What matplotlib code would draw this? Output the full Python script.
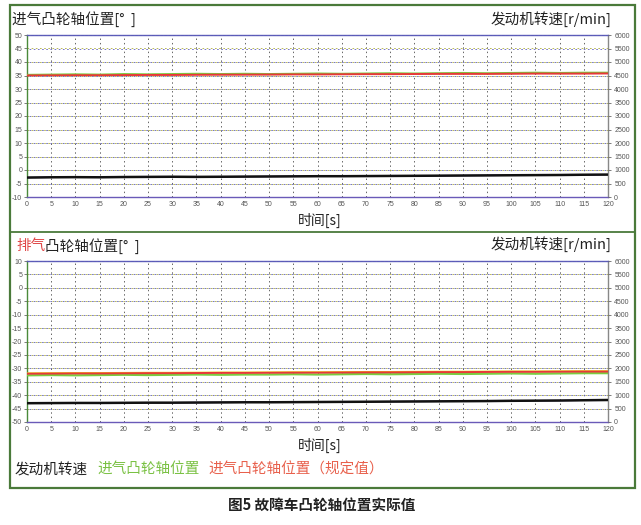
import matplotlib
matplotlib.use('Agg')
import matplotlib.pyplot as plt
from matplotlib.patches import Rectangle
from matplotlib.lines import Line2D
import numpy as np

plt.rcParams['font.family'] = ['Noto Sans CJK SC', 'DejaVu Sans']

# time axis [s]
time_s = [0, 5, 10, 15, 20, 25, 30, 35, 40, 45, 50, 55, 60,
          65, 70, 75, 80, 85, 90, 95, 100, 105, 110, 115, 120]

# top panel: intake camshaft
top_speed = [720, 730, 735, 730, 740, 745, 750, 745, 750, 755, 760, 765, 770,
             770, 775, 780, 785, 790, 795, 800, 805, 810, 815, 825, 830]
top_cam_actual = [35.2, 35.3, 35.4, 35.3, 35.5, 35.4, 35.5, 35.6, 35.5, 35.6, 35.5, 35.6, 35.7,
                  35.6, 35.7, 35.8, 35.7, 35.8, 35.9, 35.8, 35.9, 36.0, 35.9, 36.0, 36.0]
top_cam_target = [35.0, 35.05, 35.1, 35.1, 35.15, 35.2, 35.2, 35.25, 35.3, 35.3, 35.35, 35.4, 35.4,
                  35.45, 35.5, 35.5, 35.55, 35.6, 35.6, 35.6, 35.65, 35.7, 35.7, 35.7, 35.75]

# bottom panel: exhaust camshaft
bot_speed = [700, 705, 710, 710, 715, 720, 720, 725, 730, 735, 735, 740, 745,
             750, 755, 760, 765, 770, 775, 780, 790, 795, 800, 810, 820]
bot_cam_actual = [-32.6, -32.5, -32.6, -32.5, -32.4, -32.5, -32.4, -32.3, -32.4, -32.3, -32.3, -32.2, -32.3,
                  -32.2, -32.1, -32.2, -32.1, -32.0, -32.1, -32.0, -31.9, -32.0, -31.9, -31.8, -31.8]
bot_cam_target = [-32.0, -31.95, -31.9, -31.9, -31.85, -31.8, -31.8, -31.75, -31.7, -31.7, -31.65, -31.6, -31.6,
                  -31.55, -31.5, -31.5, -31.45, -31.4, -31.4, -31.35, -31.3, -31.3, -31.25, -31.2, -31.2]
bot_cam_other = [-31.8, -31.75, -31.7, -31.7, -31.65, -31.6, -31.6, -31.55, -31.5, -31.5, -31.45, -31.4, -31.4,
                 -31.35, -31.3, -31.3, -31.25, -31.2, -31.2, -31.15, -31.1, -31.1, -31.05, -31.0, -31.0]

x_ticks = list(range(0, 125, 5))
speed_ticks = list(range(0, 6500, 500))

W, H = 641, 525
fig = plt.figure(figsize=(W / 100, H / 100), dpi=100)

tick_font = dict(family=['Liberation Sans Narrow', 'Liberation Sans', 'DejaVu Sans'], size=5.0)
tick_color = '#555555'


def px(x, y):
    return x / W, 1 - y / H


def make_panel(rect, ylim, speed, actual, target, other=None):
    ax = fig.add_axes(rect)
    ax.set_xlim(0, 120)
    ax.set_ylim(*ylim)
    yt = np.arange(ylim[0], ylim[1] + 1, 5)
    ax.set_xticks(x_ticks)
    ax.set_yticks(yt)
    ax.set_xticklabels([str(v) for v in x_ticks], fontdict=tick_font)
    ax.set_yticklabels([str(int(v)) for v in yt], fontdict=tick_font)
    ax.tick_params(axis='y', length=2.5, width=0.6, pad=1, colors='#666666')
    ax.tick_params(axis='x', length=0, pad=3)
    for lab in ax.get_yticklabels() + ax.get_xticklabels():
        lab.set_color(tick_color)
    ax.grid(axis='x', color='#666666', linestyle=(0, (1.5, 3)), linewidth=0.7)
    ax.grid(axis='y', color='#b0b040', linestyle=(0, (2, 3)), linewidth=0.6)
    ax.set_axisbelow(True)
    ax.spines['left'].set_color('#4a8a3a')
    ax.spines['top'].set_color('#5a5ab8')
    ax.spines['bottom'].set_color('#6a5ab8')
    ax.spines['right'].set_color('#888888')
    for s in ax.spines.values():
        s.set_linewidth(1.0)

    ax.plot(time_s, actual, color='#7acc40', lw=1.6, zorder=3)
    if other is not None:
        ax.plot(time_s, other, color='#e8d820', lw=1.2, zorder=3)
    ax.plot(time_s, target, color='#e83838', lw=1.4, zorder=4)

    ax2 = ax.twinx()
    ax2.set_ylim(0, 6000)
    ax2.set_yticks(speed_ticks)
    ax2.set_yticklabels([str(v) for v in speed_ticks], fontdict=tick_font)
    ax2.tick_params(axis='y', length=2.5, width=0.6, pad=2, colors='#666666')
    for lab in ax2.get_yticklabels():
        lab.set_color(tick_color)
    ax2.grid(axis='y', color='#6060b8', linestyle=(2.5, (2, 3)), linewidth=0.6)
    ax2.set_axisbelow(True)
    for s in ax2.spines.values():
        s.set_visible(False)
    ax2.plot(time_s, speed, color='#5a4ab0', lw=1.0, zorder=3)
    ax2.plot(time_s, speed, color='#111111', lw=1.8, zorder=4)
    return ax


# axes rectangles from pixel positions
top_rect = [27 / W, 1 - 197 / H, (608 - 27) / W, (197 - 35) / H]
bot_rect = [27 / W, 1 - 422 / H, (608 - 27) / W, (422 - 261) / H]

make_panel(top_rect, (-10, 50), top_speed, top_cam_actual, top_cam_target)
make_panel(bot_rect, (-50, 10), bot_speed, bot_cam_actual, bot_cam_target, bot_cam_other)

# outer frame and separator
fig.add_artist(Rectangle(px(10, 488), (635 - 10) / W, (488 - 5) / H, transform=fig.transFigure,
                         fill=False, edgecolor='#4a7a3a', linewidth=1.6))
fig.add_artist(Line2D([10 / W, 635 / W], [1 - 232 / H, 1 - 232 / H], transform=fig.transFigure,
                      color='#4a7a3a', linewidth=1.3))

title_size = 10.5
# top panel titles
fig.text(*px(12, 19), '进气凸轮轴位置[°  ]', fontsize=title_size, va='center', ha='left', color='#222222')
fig.text(*px(611, 19), '发动机转速[r/min]', fontsize=title_size, va='center', ha='right', color='#222222')
fig.text(*px(320, 220), '时间[s]', fontsize=10, va='center', ha='center', color='#222222')

# bottom panel titles
t1 = fig.text(*px(16, 246), '排气', fontsize=title_size, va='center', ha='left', color='#e04848')
fig.canvas.draw()
bb = t1.get_window_extent()
fig.text(bb.x1 / W, 1 - 246 / H, '凸轮轴位置[°  ]', fontsize=title_size, va='center', ha='left',
         color='#222222')
fig.text(*px(611, 244), '发动机转速[r/min]', fontsize=title_size, va='center', ha='right', color='#222222')
fig.text(*px(320, 445), '时间[s]', fontsize=10, va='center', ha='center', color='#222222')

# legend row
l1 = fig.text(*px(15, 470), '发动机转速', fontsize=title_size, va='center', ha='left', color='#222222')
fig.canvas.draw()
x1 = l1.get_window_extent().x1 + 9
l2 = fig.text(x1 / W, 1 - 470 / H, '进气凸轮轴位置', fontsize=title_size, va='center', ha='left',
              color='#7ac143')
fig.canvas.draw()
x2 = l2.get_window_extent().x1 + 9
fig.text(x2 / W, 1 - 470 / H, '进气凸轮轴位置（规定值）', fontsize=title_size, va='center', ha='left',
         color='#e8604c')

# caption
fig.text(*px(322, 505), '图5 故障车凸轮轴位置实际值', fontsize=10.5, fontweight='bold',
         va='center', ha='center', color='#222222')

fig.savefig('out.png', dpi=100)
